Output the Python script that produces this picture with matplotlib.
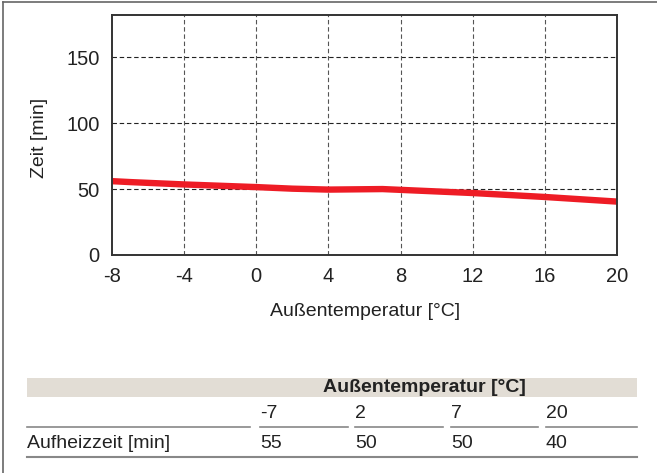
import matplotlib
matplotlib.use("Agg")
import matplotlib.pyplot as plt
from matplotlib.patches import Rectangle
from matplotlib.lines import Line2D

plt.rcParams['font.family'] = ['Liberation Sans Narrow', 'Liberation Sans', 'DejaVu Sans']
plt.rcParams['axes.unicode_minus'] = False

# curve
curve_x = [-8, -7, -4, 0, 2, 4, 7, 12, 16, 20]
curve_y = [56, 55.3, 53.5, 51.5, 50.3, 49.6, 50, 47, 44, 40.5]

# table values
table_temps = ['-7', '2', '7', '20']
table_times = ['55', '50', '50', '40']
x_ticks = [-8, -4, 0, 4, 8, 12, 16, 20]
y_ticks = [0, 50, 100, 150]

W, H = 657, 473
fig = plt.figure(figsize=(W / 100, H / 100), dpi=100)


def fx(x):
    return x / W


def fy(y):
    return 1 - y / H


# axes placement in pixels
left, right, top, bottom = 112, 617, 15, 255
ax = fig.add_axes([fx(left), fy(bottom), fx(right - left), (bottom - top) / H])
ax.plot(curve_x, curve_y, color='#ee1c25', lw=4.6, solid_capstyle='butt')
ax.set_xlim(-8, 20)
ax.set_ylim(0, 182)
ax.set_xticks(x_ticks)
ax.set_yticks(y_ticks)
ax.tick_params(length=0, labelsize=14.5, pad=9, colors='#222222')
for s in ax.spines.values():
    s.set_color('#333333')
    s.set_linewidth(1.4)
for v in y_ticks[1:]:
    ax.axhline(v, color='#222222', lw=0.8, ls=(0, (4, 2.5)), zorder=0)
for v in x_ticks[1:-1]:
    ax.axvline(v, color='#555555', lw=0.8, ls=(0, (4, 2.5)), zorder=0)

fig.text(fx(40), fy(138), 'Zeit [min]', rotation=90, ha='center', va='center',
         fontsize=14, color='#222222')
fig.text(fx(365), fy(311), 'Außentemperatur [°C]', ha='center', va='center',
         fontsize=14, color='#222222')

# outer frame (top and left)
fig.add_artist(Line2D([fx(3), fx(3)], [fy(2), fy(473)], color='#666666', lw=1.2))
fig.add_artist(Line2D([fx(3), fx(657)], [fy(2), fy(2)], color='#666666', lw=1.2))

# table
fig.add_artist(Rectangle((fx(27), fy(397)), fx(637 - 27), 19 / H,
                         color='#e2ddd5', lw=0))
fig.text(fx(424), fy(387), 'Außentemperatur [°C]', ha='center', va='center',
         fontsize=14, fontweight='bold', color='#222222')

col_x = [260, 355, 451, 546]
seg = [(27, 250), (260, 348), (355, 443), (451, 538), (546, 637)]
for a, b in seg:
    fig.add_artist(Line2D([fx(a), fx(b)], [fy(427), fy(427)], color='#888888', lw=1.2))
fig.add_artist(Line2D([fx(27), fx(637)], [fy(457), fy(457)], color='#888888', lw=1.5))

for x, t in zip(col_x, table_temps):
    fig.text(fx(x), fy(413), t, ha='left', va='center', fontsize=14, color='#222222')
fig.text(fx(27), fy(443), 'Aufheizzeit [min]', ha='left', va='center',
         fontsize=14, color='#222222')
for x, t in zip(col_x, table_times):
    fig.text(fx(x), fy(443), t, ha='left', va='center', fontsize=14, color='#222222')

fig.savefig('out.png', dpi=100)
